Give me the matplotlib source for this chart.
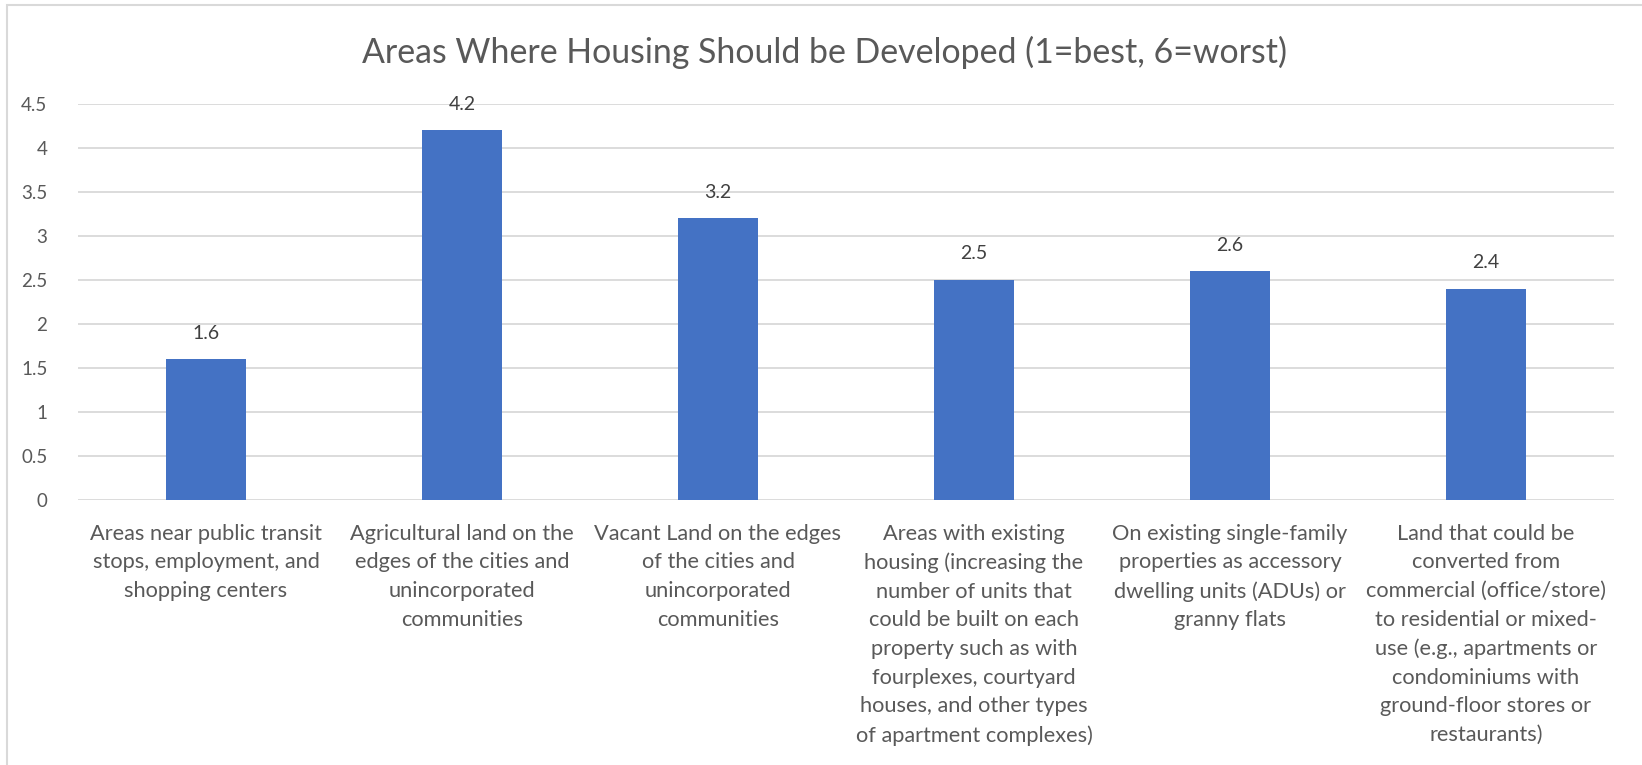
import matplotlib.pyplot as plt
from matplotlib.patches import Rectangle

categories = [
    "Areas near public transit\nstops, employment, and\nshopping centers",
    "Agricultural land on the\nedges of the cities and\nunincorporated\ncommunities",
    "Vacant Land on the edges\nof the cities and\nunincorporated\ncommunities",
    "Areas with existing\nhousing (increasing the\nnumber of units that\ncould be built on each\nproperty such as with\nfourplexes, courtyard\nhouses, and other types\nof apartment complexes)",
    "On existing single-family\nproperties as accessory\ndwelling units (ADUs) or\ngranny flats",
    "Land that could be\nconverted from\ncommercial (office/store)\nto residential or mixed-\nuse (e.g., apartments or\ncondominiums with\nground-floor stores or\nrestaurants)",
]
values = [1.6, 4.2, 3.2, 2.5, 2.6, 2.4]
yticks = [0, 0.5, 1, 1.5, 2, 2.5, 3, 3.5, 4, 4.5]
ytick_labels = ["0", "0.5", "1", "1.5", "2", "2.5", "3", "3.5", "4", "4.5"]
title = "Areas Where Housing Should be Developed (1=best, 6=worst)"

plt.rcParams['font.family'] = ['Lato', 'DejaVu Sans']
text_color = '#595959'
grid_color = '#D9D9D9'

fig = plt.figure(figsize=(16.42, 7.65), dpi=100)
ax = fig.add_axes([78 / 1642, 1 - 500 / 765, 1536 / 1642, 396 / 765])

x = range(len(values))
bars = ax.bar(x, values, width=0.31, color='#4472C4', zorder=3)
for b, v in zip(bars, values):
    ax.text(b.get_x() + b.get_width() / 2, v + 0.2, f"{v:g}", ha='center', va='bottom',
            fontsize=14, color='#404040')

ax.set_xlim(-0.5, len(values) - 0.5)
ax.set_ylim(0, 4.5)
ax.set_yticks(yticks)
ax.set_yticklabels(ytick_labels)
ax.set_xticks(list(x))
ax.set_xticklabels(categories, linespacing=1.54)
ax.tick_params(axis='y', length=0, pad=22, labelsize=13.5, labelcolor=text_color)
ax.tick_params(axis='x', length=0, pad=17, labelsize=15.7, labelcolor=text_color)
for lab in ax.get_yticklabels():
    lab.set_horizontalalignment('right')
ax.yaxis.grid(True, color=grid_color, linewidth=1.3, zorder=0)
for s in ax.spines.values():
    s.set_visible(False)

fig.text(0.502, 1 - 52 / 765, title, ha='center', va='center', fontsize=24.4, color=text_color)

fig.patches.append(Rectangle((7 / 1642, -0.1), 1.2, 1.1 - 5 / 765, transform=fig.transFigure,
                             fill=False, edgecolor=grid_color, linewidth=1.5))

fig.savefig('out.png', dpi=100)
